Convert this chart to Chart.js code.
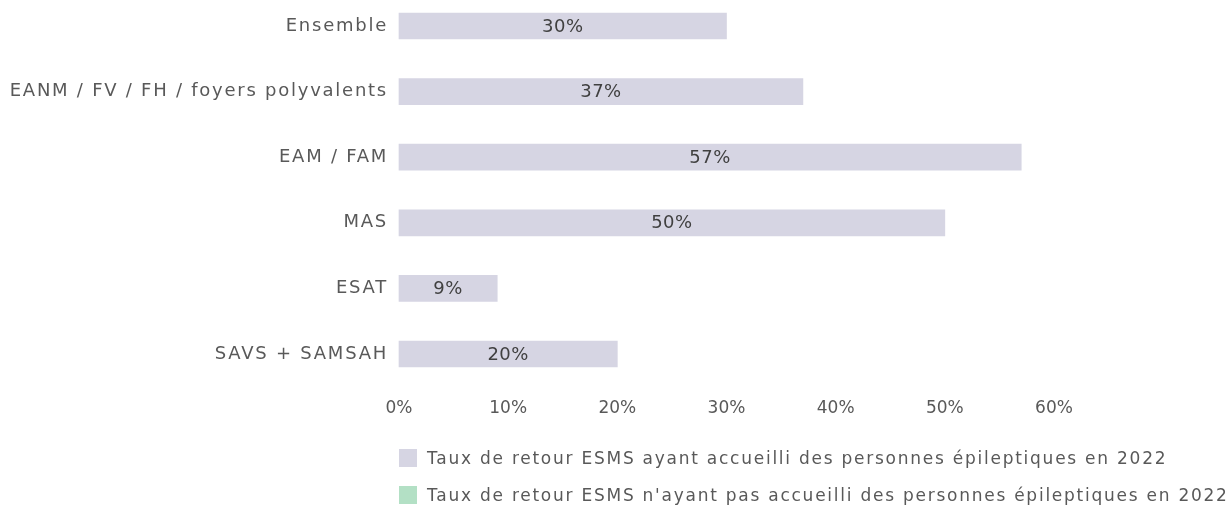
<!DOCTYPE html>
<html lang="fr">
<head>
<meta charset="utf-8">
<title>Taux de retour ESMS</title>
<script src="https://cdn.jsdelivr.net/npm/chart.js@4/dist/chart.umd.min.js"></script>
<style>
    html, body { margin: 0; padding: 0; background: #ffffff; }
    #wrap { width: 1226px; height: 506px; position: relative; }
    #legend {
        position: absolute; left: 399px; top: 449px;
        margin: 0; padding: 0; list-style: none;
        font-family: 'DejaVu Sans', sans-serif; font-size: 17px;
        letter-spacing: 1.75px; color: #595959; white-space: nowrap;
    }
    #legend li { display: flex; align-items: center; height: 18px; margin-bottom: 19px; }
    #legend .box { display: inline-block; width: 18px; height: 18px; margin-right: 10px; }
</style>
</head>
<body>
<div id="wrap">
    <canvas id="tauxChart"></canvas>
    <ul id="legend"></ul>
</div>
<script>
// Catégories d'établissements
const categories = ['Ensemble', 'EANM / FV / FH / foyers polyvalents', 'EAM / FAM', 'MAS', 'ESAT', 'SAVS + SAMSAH'];

// Taux de retour (%)
const tauxAccueil = [30, 37, 57, 50, 9, 20];
const tauxNonAccueil = [];

// Graduations de l'axe x
const xTicks = [0, 10, 20, 30, 40, 50, 60];

const textColor = '#595959';
const fontFamily = "'DejaVu Sans', sans-serif";

// Espacement des lettres pour les libellés de l'axe y (dessinés avant les barres)
const letterSpacing = {
    id: 'letterSpacing',
    beforeDraw(chart) {
        chart.ctx.letterSpacing = '1.75px';
    },
    beforeDatasetsDraw(chart) {
        chart.ctx.letterSpacing = '0px';
    }
};

// Affiche la valeur au centre de chaque barre
const valueLabels = {
    id: 'valueLabels',
    afterDatasetsDraw(chart) {
        const ctx = chart.ctx;
        const meta = chart.getDatasetMeta(0);
        ctx.save();
        ctx.letterSpacing = '0.5px';
        ctx.font = '18px ' + fontFamily;
        ctx.fillStyle = '#404040';
        ctx.textAlign = 'center';
        ctx.textBaseline = 'middle';
        meta.data.forEach((bar, i) => {
            const v = chart.data.datasets[0].data[i];
            ctx.fillText(v + '%', (bar.x + bar.base) / 2, bar.y + 1);
        });
        ctx.restore();
    }
};

// Légende en HTML, sous le graphique
const htmlLegend = {
    id: 'htmlLegend',
    afterUpdate(chart) {
        const ul = document.getElementById('legend');
        ul.innerHTML = '';
        const items = chart.options.plugins.legend.labels.generateLabels(chart);
        items.forEach(item => {
            const li = document.createElement('li');
            const box = document.createElement('span');
            box.className = 'box';
            box.style.background = item.fillStyle;
            const txt = document.createElement('span');
            txt.textContent = item.text;
            li.appendChild(box);
            li.appendChild(txt);
            ul.appendChild(li);
        });
    }
};

const config = {
    type: 'bar',
    data: {
        labels: categories,
        datasets: [
            {
                label: 'Taux de retour ESMS ayant accueilli des personnes épileptiques en 2022',
                data: tauxAccueil,
                backgroundColor: '#d6d5e3',
                borderWidth: 0,
                barThickness: 26,
                grouped: false,
                clip: false
            },
            {
                label: "Taux de retour ESMS n'ayant pas accueilli des personnes épileptiques en 2022",
                data: tauxNonAccueil,
                backgroundColor: '#b3e0c5',
                borderWidth: 0,
                barThickness: 26,
                grouped: false,
                clip: false
            }
        ]
    },
    options: {
        indexAxis: 'y',
        responsive: true,
        maintainAspectRatio: false,
        animation: false,
        layout: {
            padding: { left: 0, right: 172, top: 26, bottom: 77 }
        },
        scales: {
            x: {
                min: 0,
                max: 60,
                afterBuildTicks: (scale) => {
                    scale.ticks = xTicks.map(v => ({ value: v }));
                },
                afterFit: (scale) => { scale.height = 75; },
                grid: { display: false, drawTicks: false },
                border: { display: false },
                ticks: {
                    z: 1, // dessinés après les barres, sans espacement
                    padding: 44,
                    color: textColor,
                    font: { family: fontFamily, size: 17 },
                    callback: v => v + '%'
                }
            },
            y: {
                offset: false,
                afterFit: (scale) => { scale.width = 399; },
                grid: { display: false, drawTicks: false },
                border: { display: false },
                ticks: {
                    padding: 11,
                    autoSkip: false,
                    color: textColor,
                    font: { family: fontFamily, size: 18 }
                }
            }
        },
        plugins: {
            legend: { display: false },
            tooltip: { enabled: false }
        }
    },
    plugins: [letterSpacing, valueLabels, htmlLegend]
};

const tauxChart = new Chart(document.getElementById('tauxChart'), config);
</script>
</body>
</html>
